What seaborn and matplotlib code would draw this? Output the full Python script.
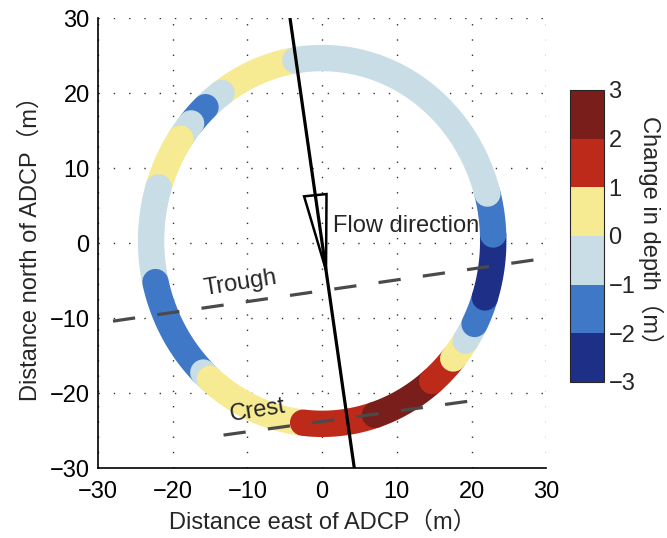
import numpy as np
import pandas as pd
import matplotlib
matplotlib.use("Agg")
import matplotlib.pyplot as plt
import seaborn as sns
from matplotlib.colors import ListedColormap, BoundaryNorm
from matplotlib.cm import ScalarMappable
from matplotlib.patches import Polygon

# ---- survey ring: angular extent (deg, counter-clockwise from east) and depth change ----
ring_bounds_deg = [100, 126, 133, 140, 146, 163, 193, 226, 229, 263.6,
                   288, 310, 320, 327, 333, 342, 362, 375, 459]
depth_change = [0.5, -0.5, -1.5, -0.5, 0.5, -0.5, -1.5, -0.5, 0.5,
                1.5, 2.5, 1.5, 0.5, -0.5, -1.5, -2.5, -1.5, -0.5]
ring_center = (0.0, 0.3)
ring_radius_x = 22.9
ring_radius_y = 24.4

# ---- colour classes of the depth change ----
class_bounds = [-3, -2, -1, 0, 1, 2, 3]
class_colors = ["#1e2f88", "#3f78c6", "#c8dde5", "#f6ea92", "#be2a1a", "#7a1e1b"]

# ---- reference lines ----
flow_x = [-4.3, 4.3]
flow_y = [30, -30]
arrow_base_y, arrow_tip_y, arrow_half_width = 6.4, -3.6, 1.5
trough_x = [-28.0, 30.0]
trough_y = [-10.4, -2.0]
crest_x = [-13.2, 20.2]
crest_y = [-25.6, -21.0]

ticks = [-30, -20, -10, 0, 10, 20, 30]
cbar_ticks = [-3, -2, -1, 0, 1, 2, 3]

sns.set_style("white")
plt.rcParams["font.family"] = ["Liberation Sans", "Noto Sans CJK SC", "DejaVu Sans"]
plt.rcParams["axes.unicode_minus"] = True

fig = plt.figure(figsize=(6.67, 5.38), dpi=100)
ax = fig.add_axes([0.147, 0.130, 0.672, 0.836])
cax = fig.add_axes([0.855, 0.290, 0.051, 0.543])

cmap = ListedColormap(class_colors)
norm = BoundaryNorm(class_bounds, cmap.N)

# build the ring track as one table, one group per colour segment
rows = []
for i, val in enumerate(depth_change):
    a0, a1 = ring_bounds_deg[i], ring_bounds_deg[i + 1]
    ang = np.deg2rad(np.linspace(a0, a1, max(int(abs(a1 - a0)) * 2, 4)))
    for a in ang:
        rows.append({"x": ring_center[0] + ring_radius_x * np.cos(a),
                     "y": ring_center[1] + ring_radius_y * np.sin(a),
                     "seg": i, "dz": val})
track = pd.DataFrame(rows)
palette = {i: cmap(norm(v)) for i, v in enumerate(depth_change)}

sns.lineplot(data=track, x="x", y="y", hue="seg", palette=palette,
             sort=False, estimator=None, legend=False, ax=ax,
             linewidth=19, solid_capstyle="round", zorder=2)

# trough and crest lines
dash_kw = dict(color="#4a4a4a", linewidth=2.3, linestyle=(0, (7, 7)),
               dash_capstyle="butt", zorder=3)
ax.plot(trough_x, trough_y, **dash_kw)
ax.plot(crest_x, crest_y, **dash_kw)

# flow direction line and open arrow head
ax.plot(flow_x, flow_y, color="black", linewidth=2.3, zorder=4)
slope = (flow_x[1] - flow_x[0]) / (flow_y[1] - flow_y[0])
x_at = lambda yy: flow_x[0] + (yy - flow_y[0]) * slope
tri = Polygon([(x_at(arrow_base_y) - arrow_half_width, arrow_base_y - 0.15),
               (x_at(arrow_base_y) + arrow_half_width, arrow_base_y + 0.15),
               (x_at(arrow_tip_y), arrow_tip_y)],
              closed=True, fill=False, edgecolor="black", linewidth=1.8,
              joinstyle="miter", zorder=4)
ax.add_patch(tri)

fs = 17
ax.text(1.5, 2.3, "Flow direction", fontsize=fs, va="center", ha="left", zorder=5)
ax.text(-11.0, -5.4, "Trough", fontsize=fs, va="center", ha="center",
        rotation=9, zorder=5)
ax.text(-8.6, -22.4, "Crest", fontsize=fs, va="center", ha="center",
        rotation=9, zorder=5)

ax.set_xlim(-30, 30)
ax.set_ylim(-30, 30)
ax.set_xticks(ticks)
ax.set_yticks(ticks)
ax.tick_params(axis="both", direction="in", length=3, width=1, labelsize=fs,
               colors="black")
ax.tick_params(axis="x", pad=9)
ax.tick_params(axis="y", pad=6)
ax.grid(True, color="#333333", linestyle=(0, (1, 10)), linewidth=1.0)
ax.set_axisbelow(True)
for side in ["top", "right"]:
    ax.spines[side].set_visible(False)
for side in ["left", "bottom"]:
    ax.spines[side].set_color("black")
    ax.spines[side].set_linewidth(1.2)
ax.set_xlabel("Distance east of ADCP（m）", fontsize=fs, labelpad=6)
ax.set_ylabel("Distance north of ADCP（m）", fontsize=fs, labelpad=6)

sm = ScalarMappable(norm=norm, cmap=cmap)
cb = fig.colorbar(sm, cax=cax, ticks=cbar_ticks)
cb.outline.set_linewidth(0.8)
cax.tick_params(length=0, labelsize=fs, pad=3)
cb.set_label("Change in depth（m）", rotation=270, fontsize=fs, labelpad=20)

fig.savefig("out.png", dpi=100)
